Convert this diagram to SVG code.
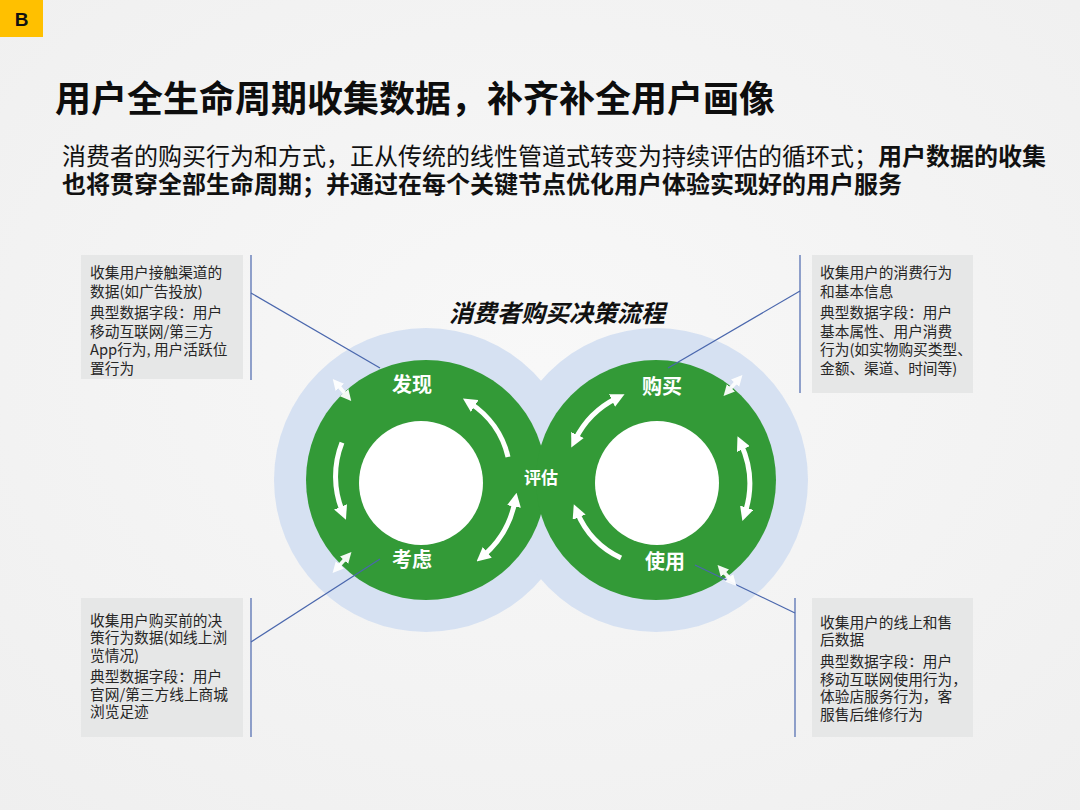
<svg xmlns="http://www.w3.org/2000/svg" width="1080" height="810" viewBox="0 0 1080 810">
<style>
text{font-family:"Noto Sans CJK SC","Noto Sans",sans-serif}
.box{fill:#E6E7E7}
.bt{font-size:14.7px;fill:#262626}
.lbl{font-size:20px;font-weight:700;fill:#FFFFFF;text-anchor:middle}
.arc{fill:none;stroke:#FFFFFF;stroke-width:5;stroke-linecap:butt}
.sm{fill:none;stroke:#FFFFFF;stroke-width:3.6;opacity:.95}
.con{fill:none;stroke:#4A67AD;stroke-width:1.2}
.blue{fill:#D6E1F2}
.green{fill:#339A37}
.hole{fill:#FFFFFF}
</style>
<defs>
<marker id="ah" viewBox="0 0 10 10" refX="4" refY="5" markerWidth="14" markerHeight="14" markerUnits="userSpaceOnUse" orient="auto-start-reverse">
<path d="M0,0 L10,5 L0,10 z" fill="#FFFFFF"/>
</marker>
<marker id="ahs" viewBox="0 0 10 10" refX="4" refY="5" markerWidth="11" markerHeight="11" markerUnits="userSpaceOnUse" orient="auto-start-reverse">
<path d="M0,0 L10,5 L0,10 z" fill="#FFFFFF"/>
</marker>
<radialGradient id="bg" cx="50%" cy="45%" r="75%">
<stop offset="0" stop-color="#F8F8F8"/>
<stop offset="1" stop-color="#EFEFEF"/>
</radialGradient>
</defs>
<rect width="1080" height="810" fill="url(#bg)"/>

<g id="badge">
<rect x="0" y="0" width="43" height="37" fill="#FFC000"/>
<text x="21.5" y="26" font-size="19" font-weight="700" fill="#111" text-anchor="middle" style="font-family:'Liberation Sans',sans-serif">B</text>
</g>

<g id="title">
<text x="55" y="112" font-size="36" font-weight="700" fill="#0D0D0D">用户全生命周期收集数据，补齐补全用户画像</text>
</g>

<g id="subtitle" font-size="24" fill="#111">
<text x="62" y="165">消费者的购买行为和方式，正从传统的线性管道式转变为持续评估的循环式；<tspan font-weight="700">用户数据的收集</tspan></text>
<text x="62" y="193" font-weight="700">也将贯穿全部生命周期；并通过在每个关键节点优化用户体验实现好的用户服务</text>
</g>

<g id="flow-title">
<text x="557" y="322" font-size="24" font-weight="700" font-style="italic" fill="#111" text-anchor="middle">消费者购买决策流程</text>
</g>

<g id="rings">
<circle class="blue" cx="426" cy="480" r="152"/>
<circle class="blue" cx="656" cy="480" r="152"/>
<circle class="green" cx="426" cy="480" r="120"/>
<circle class="green" cx="656" cy="480" r="120"/>
<circle class="hole" cx="421" cy="483" r="62"/>
<circle class="hole" cx="657" cy="483" r="62"/>
</g>

<g id="connectors">
<line class="con" x1="251" y1="255" x2="251" y2="380"/>
<line class="con" x1="251" y1="293" x2="380" y2="368"/>
<line class="con" x1="800" y1="255" x2="800" y2="393"/>
<line class="con" x1="800" y1="291" x2="668" y2="368"/>
<line class="con" x1="251" y1="598" x2="251" y2="737"/>
<line class="con" x1="251" y1="642" x2="380" y2="559"/>
<line class="con" x1="795" y1="598" x2="795" y2="737"/>
<line class="con" x1="795" y1="613" x2="695" y2="565"/>
</g>

<g id="cycle-arrows">
<path class="arc" d="M342,442.6 A92,92 0 0 0 342.7,512" marker-end="url(#ah)"/>
<path class="arc" d="M508,457 A88,88 0 0 0 470,403" marker-end="url(#ah)"/>
<path class="arc" d="M515,501 A95,95 0 0 1 483,556" marker-start="url(#ah)" marker-end="url(#ah)"/>
<path class="arc" d="M575,440 A92,92 0 0 1 617,398" marker-start="url(#ah)" marker-end="url(#ah)"/>
<path class="arc" d="M741,444 A95,95 0 0 1 745,513" marker-start="url(#ah)" marker-end="url(#ah)"/>
<path class="arc" d="M621,558 A88,88 0 0 1 577,512" marker-end="url(#ah)"/>
<line class="sm" x1="337" y1="384" x2="347" y2="396" marker-start="url(#ahs)" marker-end="url(#ahs)"/>
<line class="sm" x1="337" y1="568" x2="347" y2="557" marker-start="url(#ahs)" marker-end="url(#ahs)"/>
<line class="sm" x1="728" y1="391" x2="738" y2="380" marker-start="url(#ahs)" marker-end="url(#ahs)"/>
<line class="sm" x1="722" y1="570" x2="732" y2="581" marker-start="url(#ahs)" marker-end="url(#ahs)"/>
</g>

<g id="node-discover"><text class="lbl" x="412" y="392">发现</text></g>
<g id="node-consider"><text class="lbl" x="412" y="567">考虑</text></g>
<g id="node-evaluate"><text class="lbl" x="541" y="484" style="font-size:17px">评估</text></g>
<g id="node-purchase"><text class="lbl" x="662" y="394">购买</text></g>
<g id="node-use"><text class="lbl" x="665" y="569">使用</text></g>

<g id="box-discover">
<rect class="box" x="81" y="255" width="162" height="124"/>
<text class="bt" x="90" y="278">收集用户接触渠道的</text>
<text class="bt" x="90" y="296.5">数据(如广告投放)</text>
<text class="bt" x="90" y="318">典型数据字段：用户</text>
<text class="bt" x="90" y="336.5">移动互联网/第三方</text>
<text class="bt" x="90" y="355">App行为, 用户活跃位</text>
<text class="bt" x="90" y="373.5">置行为</text>
</g>

<g id="box-purchase">
<rect class="box" x="812" y="255" width="161" height="138"/>
<text class="bt" x="820" y="278">收集用户的消费行为</text>
<text class="bt" x="820" y="296.5">和基本信息</text>
<text class="bt" x="820" y="318">典型数据字段：用户</text>
<text class="bt" x="820" y="336.5">基本属性、用户消费</text>
<text class="bt" x="820" y="355">行为(如实物购买类型、</text>
<text class="bt" x="820" y="373.5">金额、渠道、时间等)</text>
</g>

<g id="box-consider">
<rect class="box" x="81" y="598" width="162" height="139"/>
<text class="bt" x="90" y="625.5">收集用户购买前的决</text>
<text class="bt" x="90" y="643">策行为数据(如线上浏</text>
<text class="bt" x="90" y="660.5">览情况)</text>
<text class="bt" x="90" y="682">典型数据字段：用户</text>
<text class="bt" x="90" y="699.5">官网/第三方线上商城</text>
<text class="bt" x="90" y="717">浏览足迹</text>
</g>

<g id="box-use">
<rect class="box" x="812" y="598" width="161" height="139"/>
<text class="bt" x="820" y="627.5">收集用户的线上和售</text>
<text class="bt" x="820" y="645">后数据</text>
<text class="bt" x="820" y="667">典型数据字段：用户</text>
<text class="bt" x="820" y="684.5">移动互联网使用行为，</text>
<text class="bt" x="820" y="702">体验店服务行为，客</text>
<text class="bt" x="820" y="719.5">服售后维修行为</text>
</g>
</svg>
